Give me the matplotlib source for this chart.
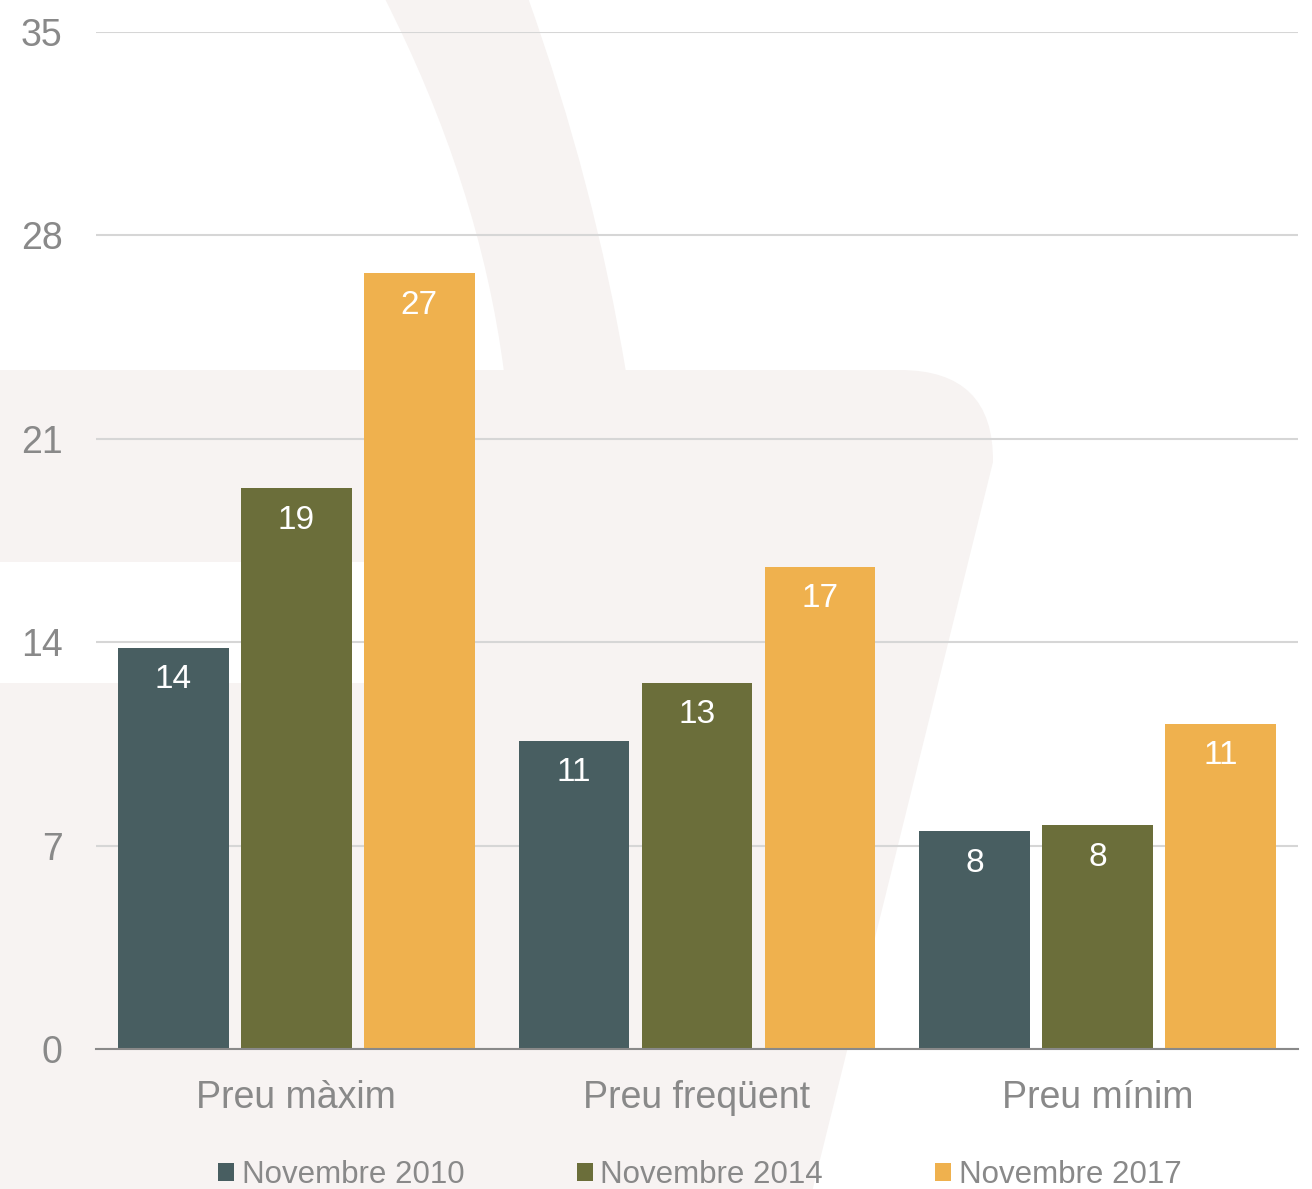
import matplotlib
matplotlib.use("Agg")
import matplotlib.pyplot as plt
import numpy as np
from matplotlib.path import Path
from matplotlib.patches import PathPatch, Rectangle, Patch

plt.rcParams['font.family'] = ['Liberation Sans', 'DejaVu Sans']

# ---- data ----
categories = ['Preu màxim', 'Preu freqüent', 'Preu mínim']
series = ['Novembre 2010', 'Novembre 2014', 'Novembre 2017']
nov_2010 = [13.8, 10.6, 7.5]
nov_2014 = [19.3, 12.6, 7.7]
nov_2017 = [26.7, 16.6, 11.2]
yticks = [0, 7, 14, 21, 28, 35]

colors = ['#485e61', '#6b6e3a', '#efb14e']
pink = '#f7f3f2'
grey_txt = '#898989'

W, H = 1312, 1189
fig = plt.figure(figsize=(W / 100, H / 100), dpi=100)

# ---- decorative basket in the background (pixel coords) ----
bg = fig.add_axes([0, 0, 1, 1], zorder=0)
bg.set_xlim(0, W)
bg.set_ylim(H, 0)
bg.axis('off')

handle = Path(
    [(383, -5), (527, -5), (595, 185), (626, 372), (504, 372), (480, 185), (383, -5), (383, -5)],
    [Path.MOVETO, Path.LINETO, Path.CURVE3, Path.CURVE3, Path.LINETO,
     Path.CURVE3, Path.CURVE3, Path.CLOSEPOLY])
bg.add_patch(PathPatch(handle, fc=pink, ec='none'))

body = Path(
    [(-10, 370), (900, 370), (994, 370), (993, 462), (810, 1200), (-10, 1200), (-10, 370)],
    [Path.MOVETO, Path.LINETO, Path.CURVE3, Path.CURVE3, Path.LINETO, Path.LINETO,
     Path.CLOSEPOLY])
bg.add_patch(PathPatch(body, fc=pink, ec='none'))
bg.add_patch(Rectangle((-10, 562), 485, 121, fc='white', ec='none'))

# ---- main chart ----
ax = fig.add_axes([96 / W, 1 - 1049 / H, 1202 / W, 1017 / H], zorder=1)
ax.patch.set_alpha(0)

x = np.arange(len(categories))
width = 0.277
step = 0.307
for i, (vals, name) in enumerate(zip([nov_2010, nov_2014, nov_2017], series)):
    bars = ax.bar(x + (i - 1) * step, vals, width, color=colors[i], label=name, zorder=3)
    for b, v in zip(bars, vals):
        ax.annotate(f'{v:.0f}', (b.get_x() + b.get_width() / 2, v),
                    xytext=(0, -23), textcoords='offset points',
                    ha='center', va='center', color='white', fontsize=24, zorder=4)

ax.set_xlim(-0.5, 2.5)
ax.set_ylim(0, 35)
ax.set_yticks(yticks)
ax.set_xticks(x)
ax.set_xticklabels(categories)
ax.yaxis.grid(True, color='#d6d6d6', linewidth=1.5, zorder=1)
ax.set_axisbelow(True)
for s in ['top', 'right', 'left']:
    ax.spines[s].set_visible(False)
ax.spines['bottom'].set_color(grey_txt)
ax.spines['bottom'].set_linewidth(1.5)
ax.spines['bottom'].set_zorder(5)
ax.tick_params(axis='y', length=0, pad=24, labelsize=27, labelcolor=grey_txt)
ax.tick_params(axis='x', length=0, pad=22, labelsize=27, labelcolor=grey_txt)

handles = [Patch(facecolor=c, edgecolor='none') for c in colors]
fig.legend(handles, series, loc='center', bbox_to_anchor=(700 / W, 14 / H),
           ncol=3, frameon=False, fontsize=22.5, labelcolor=grey_txt,
           handlelength=0.5, handleheight=0.5, handletextpad=0.25,
           columnspacing=3.6, borderpad=0, borderaxespad=0)

fig.savefig('out.png', dpi=100)
